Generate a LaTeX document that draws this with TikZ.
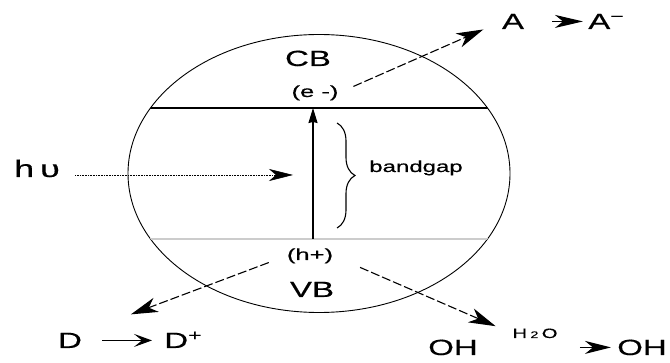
\documentclass[tikz,border=0pt]{standalone}
\usepackage{fontspec}
\setmainfont{Liberation Sans}[FakeBold=0.4]
\usetikzlibrary{arrows.meta,decorations.pathreplacing}

\tikzset{
  lbl/.style={inner sep=0pt,anchor=base,xscale=1.5,font=\fontsize{22}{24}\selectfont},
  sml/.style={inner sep=0pt,anchor=base,xscale=1.6,font=\fontsize{16}{18}\selectfont},
  big/.style={-{Stealth[length=27pt,width=15pt,inset=8pt]},line width=1.1pt,dash pattern=on 9pt off 3pt},
  rxn/.style={-{Stealth[length=#1,width=13pt,inset=8pt]},line width=1.2pt},
  rxn/.default=18pt,
}

\begin{document}
\begin{tikzpicture}[x=1pt,y=-1pt]
  \useasboundingbox (0,0) rectangle (670,363);
  % particle and band edges
  \draw[line width=0.9pt] (319,173.5) ellipse [x radius=191, y radius=139];
  \begin{scope}
    \clip (319,173.5) ellipse [x radius=191, y radius=139];
    \draw[line width=1.2pt] (100,108) -- (540,108);
    \draw[line width=1.2pt,black!20] (100,239) -- (540,239);
  \end{scope}

  \node[lbl] (cb) at (308,66) {CB};
  \node[sml] (em) at (315,97) {(e -)};
  \node[sml] (hp) at (310,260) {(h+)};
  \node[lbl] (vb) at (312,297) {VB};
  \node[lbl,font=\fontsize{24}{26}\selectfont] (hv) at (37,177) {h\,υ};
  \node[lbl,font=\fontsize{16}{18}\selectfont] (gap) at (416,172) {bandgap};

  \node[lbl] (a) at (513,29) {A};
  \node[lbl,anchor=base west] (am) at (588,29) {A\textsuperscript{−}};
  \node[lbl] (d) at (70,348) {D};
  \node[lbl,anchor=base west] (dp) at (164,348) {D\textsuperscript{+}};
  \node[lbl] (oh) at (453,355) {OH};
  \node[lbl,font=\fontsize{13.5}{15}\selectfont] (water) at (535,338) {H\,{\fontsize{9.5}{10}\selectfont 2}\,O};
  \node[lbl] (ohb) at (642,355) {OH};

  % excitation across the gap
  \coordinate (gapbot) at (313,239);
  \coordinate (gaptop) at (313,108);
  \draw[-{Stealth[length=15pt,width=9pt,inset=1pt]},line width=1.3pt] (gapbot) -- (gaptop);
  \draw[decorate,decoration={brace,amplitude=18pt},line width=1.1pt] (337,123) -- (337,228);

  \coordinate (hit) at (293,175);
  \draw[densely dotted,line width=0.6pt,-{Stealth[length=24pt,width=12pt,inset=7pt]},shorten <=15pt] (hv.east |- hit) -- (hit);

  % charge transfer
  \draw[big,shorten <=16pt,shorten >=20pt] (em.east) -- (a.west);
  \draw[big,shorten <=19pt,shorten >=52pt] (hp.west) -- (d.north east);
  \draw[big,shorten <=29pt,shorten >=18pt] (hp.east) -- (water.west);

  \draw[rxn=28pt,shorten <=28pt,shorten >=5pt] (a.east) -- (a.east -| am.west);
  \draw[rxn=18pt,shorten <=20pt,shorten >=12pt] (d.east) -- (d.east -| dp.west);
  \draw[rxn=26pt,shorten <=22pt,shorten >=6pt] (water.east |- ohb.west) -- (ohb.west);
\end{tikzpicture}
\end{document}
